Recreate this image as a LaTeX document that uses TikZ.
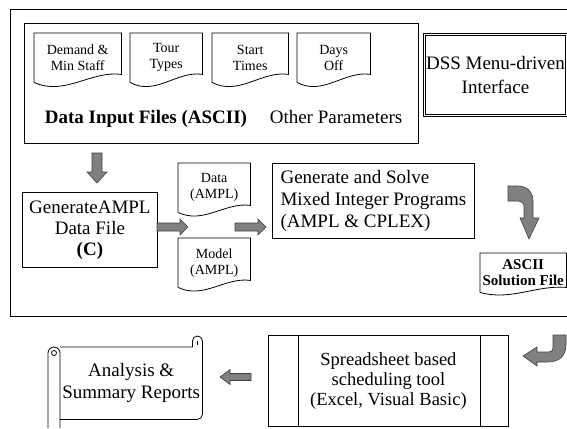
\documentclass[tikz,border=0pt]{standalone}
\usepackage{fontspec}
\setmainfont{Liberation Serif}
\usetikzlibrary{calc}
\definecolor{arrowfill}{HTML}{808080}
\definecolor{arrowline}{HTML}{404040}
\tikzset{
  x=1pt, y=1pt,
  thinline/.style={line width=0.8pt},
  box/.style={draw, line width=0.8pt, inner sep=0pt, align=center, anchor=north west},
  bigtext/.style={font=\fontsize{19}{21.5}\selectfont},
  smalltext/.style={font=\fontsize{14}{16}\selectfont},
  docnode/.style={inner sep=0pt, align=center, smalltext, anchor=north west},
  blockarrow/.style={fill=arrowfill, draw=arrowline, line width=0.6pt, line join=miter},
  pics/arrowdown/.style={code={\path[blockarrow] (-5,0) -- (5,0) -- (5,-19) -- (10,-19) -- (0,-30) -- (-10,-19) -- (-5,-19) -- cycle;}},
  pics/arrowright/.style={code={\path[blockarrow] (0,4) -- (23,4) -- (23,8) -- (31,0) -- (23,-8) -- (23,-4) -- (0,-4) -- cycle;}},
  pics/arrowleft/.style={code={\path[blockarrow] (0,3.5) -- (-21,3.5) -- (-21,7.5) -- (-31,0) -- (-21,-7.5) -- (-21,-3.5) -- (0,-3.5) -- cycle;}},
}
\begin{document}
\begin{tikzpicture}
\useasboundingbox (0,0) rectangle (567,-428);

% outer frame (DSS)
\draw[thinline] (567,-9) -- (10,-9) -- (10,-316) -- (567,-316);

% data input files group
\node[box, minimum width=394, minimum height=120] (inputs) at (24,-23) {};
\node[docnode, minimum width=87, minimum height=49] (d1) at (34,-33) {Demand \&\\Min Staff};
\node[docnode, minimum width=72, minimum height=49] (d2) at (130,-33) {Tour\\Types};
\node[docnode, minimum width=76, minimum height=49] (d3) at (212,-33) {Start\\Times};
\node[docnode, minimum width=73, minimum height=49] (d4) at (297,-33) {Days\\Off};
\node[bigtext, font=\fontsize{19}{21.5}\selectfont\bfseries, anchor=base] (dif) at (146,-123) {Data Input Files (ASCII)};
\node[bigtext, anchor=base] (oth) at (336,-123) {Other Parameters};

% DSS interface
\node[box, bigtext, font=\fontsize{19}{24}\selectfont, double, double distance=1pt, line width=0.9pt,
      minimum width=142, minimum height=81] (dss) at (424,-34) {DSS Menu-driven\\Interface};

% generate AMPL data file
\node[box, bigtext, font=\fontsize{19}{21}\selectfont, minimum width=135, minimum height=75] (gad) at (22,-192) {GenerateAMPL\\Data File\\\textbf{(C)}};

% AMPL files
\node[docnode, minimum width=72, minimum height=49] (dd) at (178,-163) {Data\\(AMPL)};
\node[docnode, minimum width=72, minimum height=49] (dm) at (178,-238) {Model\\(AMPL)};

% generate and solve
\node[box, bigtext, font=\fontsize{19}{22}\selectfont, align=left,
      minimum width=202, minimum height=75] (gen) at (272,-163) {Generate and Solve\\Mixed Integer Programs\\(AMPL \& CPLEX)};

% ASCII solution file
\node[docnode, font=\fontsize{15}{16}\selectfont\bfseries, minimum width=86, minimum height=39] (da) at (480,-253) {ASCII\\Solution File};

% document outlines
\foreach \n/\r in {d1/8,d2/8,d3/8,d4/8,dd/7,dm/7,da/5} {
  \draw[thinline] (\n.south west) -- (\n.north west) -- (\n.north east) -- ($(\n.south east)+(0,\r)$)
    .. controls ($(\n.south west)!0.65!(\n.south east)+(0,{1.5*\r})$) and ($(\n.south west)!0.35!(\n.south east)+(0,{-1.75*\r})$) .. (\n.south west);
}

% spreadsheet tool (predefined process)
\node[box, bigtext, font=\fontsize{18.5}{20}\selectfont, minimum width=240, minimum height=91] (ss) at (268,-335)
  {Spreadsheet based\\scheduling tool\\(Excel, Visual Basic)};
\draw[thinline] ($(ss.north west)+(30,0)$) -- ($(ss.south west)+(30,0)$);
\draw[thinline] ($(ss.north east)+(-28,0)$) -- ($(ss.south east)+(-28,0)$);

% report scroll
\node[inner sep=0pt, bigtext, align=center, anchor=north west, minimum width=142, minimum height=72] (rep) at (60,-347)
  {Analysis \&\\Summary Reports};
\draw[thinline, line join=round] (rep.north west) -- ($(rep.north east)+(-10,0)$) -- ++(0,6) arc (180:0:5) -- ($(rep.south east)+(0,5)$)
  arc (0:-90:5) -- (rep.south west);
\draw[thinline] ($(rep.north east)+(-5,6)$) -- ++(0,-4);
\draw[thinline] (48,-428) -- (48,-353) arc (180:0:6) -- (60,-428);
\draw[thinline] (54,-353) circle (2.5);

% block arrows
\pic at (97,-153) {arrowdown};
\pic at (157,-227) {arrowright};
\pic at (235,-227) {arrowright};
\pic at (251,-377) {arrowleft};

% curved arrows
\path[blockarrow] (508,-186) -- (518,-186) .. controls (527,-186) and (533,-192) .. (533,-201) -- (533,-218)
  -- (539,-218) -- (529,-239) -- (520,-218) -- (524,-218) -- (524,-206) .. controls (524,-203) and (521,-201) .. (517,-201)
  -- (508,-201) -- cycle;
\path[blockarrow] (553,-335) -- (566,-335) -- (566,-345) .. controls (566,-355) and (560,-362) .. (548,-362)
  -- (537,-362) -- (537,-366) -- (523,-356) -- (537,-347) -- (537,-352) -- (548,-352)
  .. controls (552,-352) and (553,-350) .. (553,-346) -- cycle;
\end{tikzpicture}
\end{document}
